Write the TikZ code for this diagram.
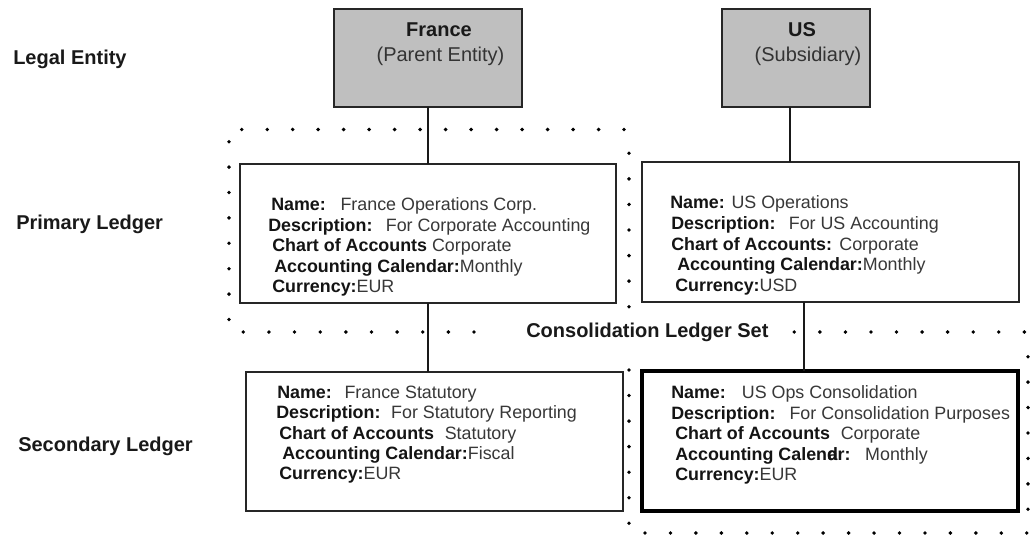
\documentclass[tikz,border=0pt]{standalone}
\usepackage{fontspec}
\setmainfont{Liberation Sans}
\newcommand\boxlab[1]{\textcolor{black!92}{\bfseries #1}}
\begin{document}
\begin{tikzpicture}[x=0.75pt,y=-0.75pt,
  lebox/.style={draw=black!85, line width=1.2pt, fill=black!25, inner sep=0pt, outer sep=0pt},
  ledgerbox/.style={draw=black!85, line width=1.1pt, fill=white, inner sep=0pt, outer sep=0pt},
  consbox/.style={ledgerbox, draw=black, line width=2.3pt},
  conn/.style={draw=black!90, line width=1.1pt},
  lbl/.style={anchor=base west, inner sep=0pt, font=\fontsize{15pt}{18pt}\selectfont\bfseries, text=black!90},
  letitle/.style={anchor=base, inner sep=0pt, font=\fontsize{15pt}{18pt}\selectfont, text=black!80},
  ln/.style={anchor=base west, inner sep=0pt, font=\fontsize{13.4pt}{15pt}\selectfont, text=black!78},
  dotf/.style={fill=black}
]
\useasboundingbox (0,0) rectangle (1034,538);

% dotted outlines
\foreach \i in {0,...,15} \fill[dotf] (241.7+25.49*\i,129.5) circle[radius=1.45pt];
\foreach \i in {0,...,7} \fill[dotf] (229,141.7+25.4*\i) circle[radius=1.45pt];
\foreach \i in {0,...,6} \fill[dotf] (629,153.3+25.57*\i) circle[radius=1.45pt];
\foreach \i in {0,...,9} \fill[dotf] (243.3+25.63*\i,332) circle[radius=1.45pt];
\foreach \i in {0,...,9} \fill[dotf] (794.3+25.56*\i,332) circle[radius=1.45pt];
\foreach \i in {0,...,6} \fill[dotf] (1028,356.7+25.43*\i) circle[radius=1.45pt];
\foreach \i in {0,...,15} \fill[dotf] (645+25.45*\i,533) circle[radius=1.45pt];
\foreach \i in {0,...,6} \fill[dotf] (629,370+25.55*\i) circle[radius=1.45pt];

% boxes
\node[lebox, minimum width=141pt, minimum height=73.5pt] (frle) at (428,58) {};
\node[lebox, minimum width=111pt, minimum height=73.5pt] (usle) at (796,58) {};
\node[ledgerbox, minimum width=282pt, minimum height=104.25pt] (frprim) at (428,233.5) {};
\node[ledgerbox, minimum width=282.75pt, minimum height=105pt] (usprim) at (830.5,232) {};
\node[ledgerbox, minimum width=282.75pt, minimum height=104.25pt] (frsec) at (434.5,441.5) {};
\node[consbox, minimum width=282pt, minimum height=105pt] (uscons) at (830,441) {};

% connectors
\coordinate (uxa) at (790,0);
\coordinate (uxb) at (804,0);
\draw[conn] (frle.south) -- (frprim.north);
\draw[conn] (frprim.south) -- (frprim.south |- frsec.north);
\draw[conn] (usle.south -| uxa) -- (usprim.north -| uxa);
\draw[conn] (usprim.south -| uxb) -- (uscons.north -| uxb);

% legal entity titles
\node[letitle, font=\fontsize{15pt}{18pt}\selectfont\bfseries, text=black!90] (frt1) at (439,37) {France};
\node[letitle] (frt2) at (440.5,62) {(Parent Entity)};
\node[letitle, font=\fontsize{15pt}{18pt}\selectfont\bfseries, text=black!90] (ust1) at (802,36.7) {US};
\node[letitle] (ust2) at (808,62) {(Subsidiary)};

% row labels
\node[lbl] (lle) at (13,64.3) {Legal Entity};
\node[lbl] (lpl) at (16,229.3) {Primary Ledger};
\node[lbl] (lsl) at (18,451.5) {Secondary Ledger};
\node[lbl] (lcs) at (526,337.3) {Consolidation Ledger Set};

% France primary
\node[ln] (fp1) at (271,210.7) {\boxlab{Name:}\hspace{11pt}France Operations Corp.};
\node[ln] (fp2) at (268,231.2) {\boxlab{Description:}\hspace{10pt}For Corporate Accounting};
\node[ln] (fp3) at (272,251.7) {\boxlab{Chart of Accounts} Corporate};
\node[ln] (fp4) at (274,272.2) {\boxlab{Accounting Calendar:}Monthly};
\node[ln] (fp5) at (272,292.7) {\boxlab{Currency:}EUR};

% US primary
\node[ln] (up1) at (670,208.5) {\boxlab{Name:} US Operations};
\node[ln] (up2) at (671,229.3) {\boxlab{Description:}\hspace{10pt}For US Accounting};
\node[ln] (up3) at (671,250.1) {\boxlab{Chart of Accounts:}\hspace{5.5pt}Corporate};
\node[ln] (up4) at (677,270.9) {\boxlab{Accounting Calendar:}Monthly};
\node[ln] (up5) at (675,291.7) {\boxlab{Currency:}USD};

% France secondary
\node[ln] (fs1) at (277,398.3) {\boxlab{Name:}\hspace{9.5pt}France Statutory};
\node[ln] (fs2) at (276,418.7) {\boxlab{Description:}\hspace{8pt}For Statutory Reporting};
\node[ln] (fs3) at (279,439.1) {\boxlab{Chart of Accounts}\hspace{8pt}Statutory};
\node[ln] (fs4) at (282,459.5) {\boxlab{Accounting Calendar:}Fiscal};
\node[ln] (fs5) at (279,479.9) {\boxlab{Currency:}EUR};

% US consolidation
\node[ln] (uc1) at (671,398.7) {\boxlab{Name:}\hspace{12pt}US Ops Consolidation};
\node[ln] (uc2) at (671,419.2) {\boxlab{Description:}\hspace{10.5pt}For Consolidation Purposes};
\node[ln] (uc3) at (675,439.7) {\boxlab{Chart of Accounts}\hspace{8pt}Corporate};
\node[ln] (uc4) at (675,460.2) {\boxlab{Accounting Calend\kern-.58em ar:}\hspace{11pt}Monthly};
\node[ln] (uc5) at (675,480.7) {\boxlab{Currency:}EUR};
\end{tikzpicture}
\end{document}
